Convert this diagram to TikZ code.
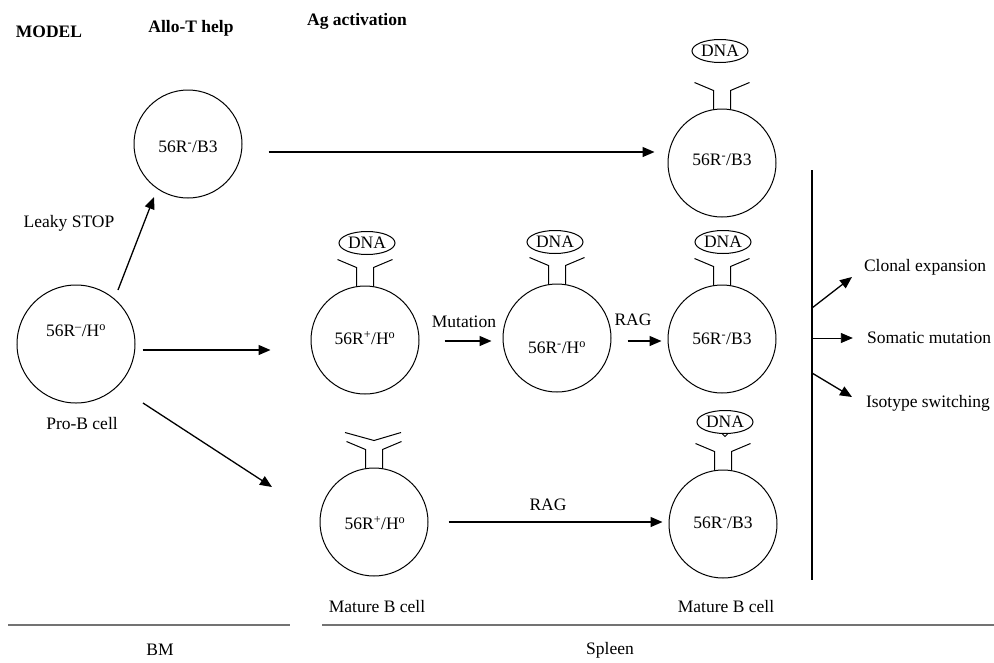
\documentclass[tikz,border=0pt]{standalone}
\usepackage{fontspec}
\setmainfont{Liberation Serif}
\usetikzlibrary{arrows.meta,calc,shapes.geometric}
\newcommand\recep[1]{%
  \draw[rec] ([shift={(-8.5,-1)}]#1.north) -- ++(0,19) -- ++(-19,8);
  \draw[rec] ([shift={(8.5,-1)}]#1.north) -- ++(0,19) -- ++(19,8);}
\begin{document}
\begin{tikzpicture}[x=1pt,y=1pt,
  every node/.style={font=\fontsize{17.5}{20}\selectfont, inner sep=0pt},
  cell/.style={circle, draw, line width=1pt, minimum size=108pt},
  dna/.style={ellipse, draw, line width=1pt, minimum width=56pt, minimum height=23pt},
  arr/.style={line width=1.3pt, -{Triangle[length=12pt,width=10pt]}},
  hdr/.style={font=\fontsize{17.5}{20}\selectfont\bfseries},
  rec/.style={line width=1pt},
  sep/.style={line width=1.2pt, draw=black!55}]
\useasboundingbox (0,0) rectangle (994,-662);

% headers
\node[hdr] (hmodel) at (49,-32) {MODEL};
\node[hdr] (hallo) at (191,-28) {Allo-T help};
\node[hdr] (hag) at (357,-21) {Ag activation};

% cells
\node[cell, minimum size=118pt] (pro) at (76,-344) {};
\node (protxt) at (76,-331) {56R\textsuperscript{--}/H\textsuperscript{o}};
\node (prolab) at (82,-424) {Pro-B cell};

\node[cell] (allo) at (188,-144) {};
\node (allotxt) at (188,-147) {56R\textsuperscript{-}/B3};

\node[cell] (tr) at (722,-163) {};
\node (trtxt) at (722,-160) {56R\textsuperscript{-}/B3};
\node[dna] (trdna) at (720,-51) {DNA};
\recep{tr}

\node[cell] (m1) at (365,-340) {};
\node (m1txt) at (365,-338) {56R\textsuperscript{+}/H\textsuperscript{o}};
\node[dna] (m1dna) at (367,-243) {DNA};
\recep{m1}

\node[cell] (m2) at (557,-338) {};
\node (m2txt) at (557,-348) {56R\textsuperscript{-}/H\textsuperscript{o}};
\node[dna] (m2dna) at (555,-242) {DNA};
\recep{m2}

\node[cell] (r2) at (722,-339) {};
\node (r2txt) at (722,-339) {56R\textsuperscript{-}/B3};
\node[dna] (r2dna) at (723,-242) {DNA};
\recep{r2}

\node[cell] (b1) at (374,-522) {};
\node (b1txt) at (375,-523) {56R\textsuperscript{+}/H\textsuperscript{o}};
\recep{b1}
\draw[rec] ([shift={(-29,35)}]b1.north) -- ([shift={(0,27)}]b1.north) -- ([shift={(27,35)}]b1.north);

\node[cell] (r3) at (723,-524) {};
\node (r3txt) at (723,-523) {56R\textsuperscript{-}/B3};
\node[dna] (r3dna) at (725,-422) {DNA};
\recep{r3}
\draw[rec] ([shift={(-3,0.5)}]r3dna.south) -- ++(3,-3) -- ++(3,3);

% connectors
\draw[arr] ([shift={(26,-8)}]allo.east) coordinate (a1) -- ([xshift=-13pt]tr.west |- a1);
\draw[arr] ($(pro)+(42,54)$) -- ($(allo)+(-34,-53)$);
\node (leaky) at (69,-223) {Leaky STOP};
\draw[arr] ([shift={(7,-6)}]pro.east) coordinate (a2) -- ([xshift=-40pt]m1.west |- a2);
\draw[arr] ($(pro)+(67,-59)$) -- ($(b1)+(-102,35)$);
\draw[arr] ([shift={(25,-1)}]m1.east) coordinate (a3) -- ([xshift=-11pt]m2.west |- a3);
\node (mut) at (464,-322) {Mutation};
\draw[arr] ([shift={(16,-3)}]m2.east) coordinate (a4) -- ([xshift=-6pt]r2.west |- a4);
\node (rag1) at (633,-320) {RAG};
\draw[arr] ([shift={(20,0)}]b1.east) coordinate (a5) -- ([xshift=-6pt]r3.west |- a5);
\node (rag2) at (548,-505) {RAG};

% outcome bar
\coordinate (vt) at (812,-170);
\coordinate (vb) at (812,-580);
\draw[line width=1.3pt] (vt) -- (vb);
\coordinate (v1) at (812,-308);
\coordinate (v2) at (812,-338);
\coordinate (v3) at (812,-373);
\node (clonal) at (925,-267) {Clonal expansion};
\node (somatic) at (929,-338) {Somatic mutation};
\node (isotype) at (928,-403) {Isotype switching};
\draw[arr] (v1) -- (852,-277) coordinate (e1);
\draw[arr, line width=0.9pt] (v2) -- ([xshift=-14pt]somatic.west);
\draw[arr] (v3) -- (852,-397) coordinate (e3);

% bottom
\node (mat1) at (377,-607) {Mature B cell};
\node (mat2) at (726,-607) {Mature B cell};
\coordinate (l1a) at (8,-625);
\coordinate (l1b) at (290,-625);
\coordinate (l2a) at (322,-625);
\coordinate (l2b) at (994,-625);
\draw[sep] (l1a) -- (l1b);
\draw[sep] (l2a) -- (l2b);
\node (bm) at (160,-650) {BM};
\node (spleen) at (610,-650) {Spleen};
\end{tikzpicture}
\end{document}
